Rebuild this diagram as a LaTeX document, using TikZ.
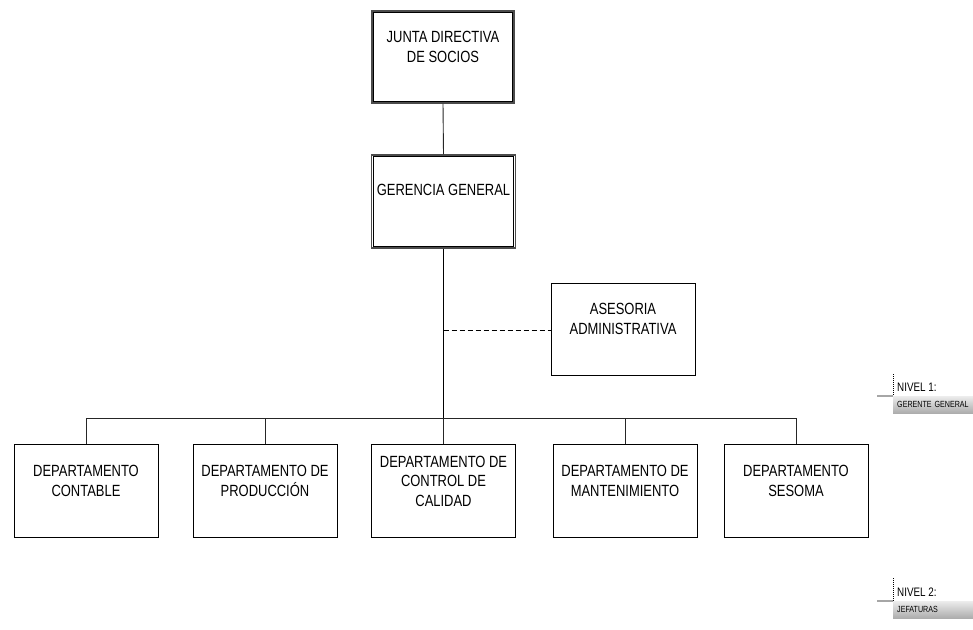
\documentclass[tikz,border=0pt]{standalone}
\usepackage{fontspec}
\setmainfont[FakeStretch=0.80]{Liberation Sans}
\usetikzlibrary{shadings}

\tikzset{
  box/.style={draw=black, line width=0.9pt, fill=white, rectangle,
              minimum width=144pt, minimum height=93pt, inner sep=0pt},
  mainbox/.style={box, draw=black!70, line width=1.2pt},
  innerframe/.style={draw=black, line width=0.8pt},
  txt/.style={align=center, font=\fontsize{16.2}{19.5}\selectfont, inner sep=0pt},
  link/.style={line width=0.9pt, black!85},
  trunk/.style={line width=1.8pt, black},
  staff/.style={line width=0.8pt, dash pattern=on 5pt off 3pt},
  levelbar/.style={rectangle, anchor=north west, minimum width=80pt, minimum height=17pt,
                   text width=76pt, inner xsep=2pt, inner ysep=0pt, align=left,
                   top color=gray!15, bottom color=gray!65,
                   font=\fontsize{8.9}{9}\selectfont},
  levellabel/.style={anchor=base west, inner sep=0pt, font=\fontsize{12.3}{13}\selectfont},
  leveltick/.style={line width=0.6pt, dash pattern=on 1pt off 1pt},
  levelline/.style={line width=1.8pt, gray!70}
}

\begin{document}
\begin{tikzpicture}[x=1pt, y=-1pt]
  \useasboundingbox (0,0) rectangle (973,629);

  % board and general management, framed with a double border
  \node[mainbox, minimum width=142pt, minimum height=92pt] (junta) at (443,57) {};
  \draw[innerframe] ([shift={(2.4,2.4)}]junta.north west)
                    rectangle ([shift={(-2.4,-2.4)}]junta.south east);
  \node[txt] (juntaT) at (443,47) {JUNTA DIRECTIVA\\DE SOCIOS};

  \node[mainbox] (gerencia) at (443.5,201.5) {};
  \draw[innerframe] ([shift={(2.4,2.4)}]gerencia.north west)
                    rectangle ([shift={(-2.4,-2.4)}]gerencia.south east);
  \node[txt] (gerenciaT) at (443.5,190) {GERENCIA GENERAL};

  % staff advisory unit
  \node[box, minimum height=92pt] (asesoria) at (623,329) {};
  \node[txt] (asesoriaT) at (623,319) {ASESORIA\\ADMINISTRATIVA};

  % departments
  \node[box] (contable) at (86,490.5) {};
  \node[txt] at (86,481) {DEPARTAMENTO\\CONTABLE};
  \node[box] (produccion) at (265,490.5) {};
  \node[txt] at (265,481) {DEPARTAMENTO DE\\PRODUCCIÓN};
  \node[box] (calidad) at (443.5,490.5) {};
  \node[txt] at (443.5,481) {DEPARTAMENTO DE\\CONTROL DE\\CALIDAD};
  \node[box] (mantenimiento) at (625,490.5) {};
  \node[txt] at (625,481) {DEPARTAMENTO DE\\MANTENIMIENTO};
  \node[box] (sesoma) at (796,490.5) {};
  \node[txt] at (796,481) {DEPARTAMENTO\\SESOMA};

  % connectors
  \coordinate (busL) at (86,418);
  \coordinate (busR) at (796,418);
  \coordinate (busC) at (443.5,418);
  \coordinate (staffJ) at (443.5,330);

  \draw[link] (junta.south) -- (gerencia.north);
  \draw[trunk] (gerencia.south) -- (busC);
  \draw[staff] (staffJ) -- (asesoria.west |- staffJ);
  \draw[link] (busL) -- (busR);
  \foreach \d in {contable, produccion, calidad, mantenimiento, sesoma}
    \draw[link] (\d.north |- busC) -- (\d.north);

  % level legend
  \node[levelbar] (bar1) at (893,396) {\hspace*{2pt}\mbox{GERENTE GENERAL}};
  \node[levellabel] (lvl1) at (897,391) {NIVEL 1:};
  \coordinate (tick1) at (893,374);
  \coordinate (rule1) at (877,396);
  \draw[leveltick] (tick1) -- (bar1.north west);
  \draw[levelline] (rule1) -- (bar1.north west);

  \node[levelbar] (bar2) at (893,601) {\hspace*{2pt}\mbox{JEFATURAS}};
  \node[levellabel] (lvl2) at (897,596) {NIVEL 2:};
  \coordinate (tick2) at (893,578);
  \coordinate (rule2) at (877,601);
  \draw[leveltick] (tick2) -- (bar2.north west);
  \draw[levelline] (rule2) -- (bar2.north west);
\end{tikzpicture}
\end{document}
